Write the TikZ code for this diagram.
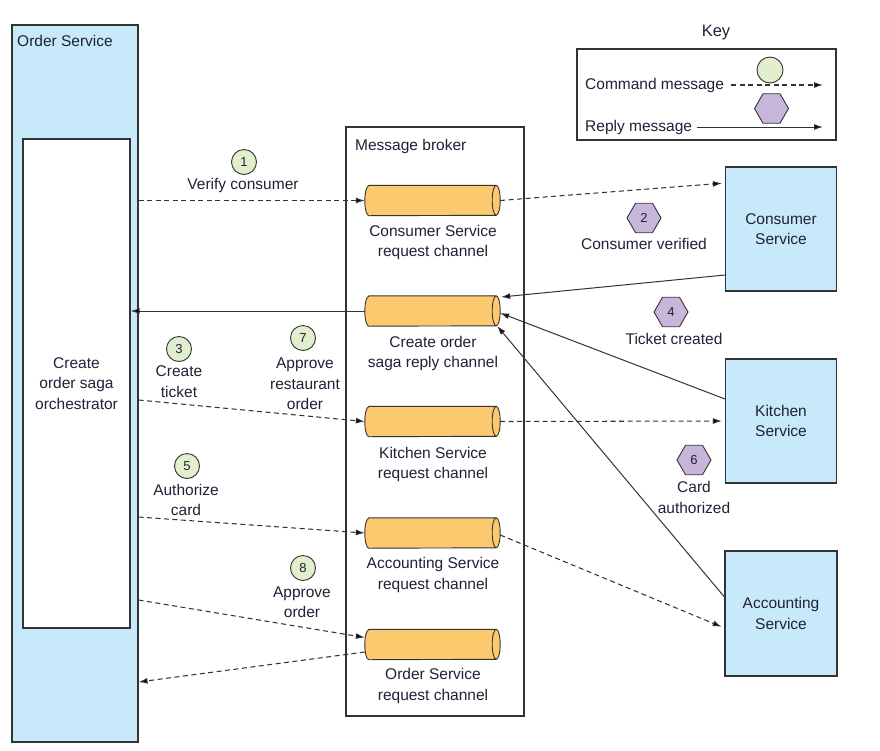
\documentclass[tikz,border=0pt]{standalone}
\usepackage{fontspec}
\setmainfont{Liberation Sans}
\usetikzlibrary{arrows.meta,shapes.geometric}
\definecolor{ink}{HTML}{1E2235}
\definecolor{edge}{HTML}{333333}
\definecolor{svcblue}{HTML}{C8E9FA}
\definecolor{chanorange}{HTML}{FDC96F}
\definecolor{cmdgreen}{HTML}{E1EFCF}
\definecolor{replypurple}{HTML}{C8B6DA}
\tikzset{
  lbl/.style={text=ink, inner sep=0, align=center, font=\fontsize{15.5}{20.5}\selectfont},
  svcbox/.style={draw=edge, line width=1.1pt, fill=svcblue, inner sep=0, text=ink, align=center,
    font=\fontsize{15.5}{20.5}\selectfont},
  plainbox/.style={draw=edge, line width=1.1pt, fill=white, inner sep=0, text=ink, align=center,
    font=\fontsize{15.5}{20.5}\selectfont},
  channel/.style={rectangle, draw=none, minimum width=135, minimum height=30, inner sep=0},
  chanbody/.style={draw=edge, line width=0.9pt, fill=chanorange},
  cmdbadge/.style={circle, draw=edge, line width=0.9pt, fill=cmdgreen, minimum size=25, inner sep=0,
    text=ink, font=\fontsize{13}{13}\selectfont},
  replybadge/.style={regular polygon, regular polygon sides=6, draw=edge, line width=0.9pt,
    fill=replypurple, minimum size=34, inner sep=0, text=ink, font=\fontsize{13}{13}\selectfont},
  cmd/.style={draw=edge, line width=1.05pt, dash pattern=on 5pt off 3.5pt,
    -{Latex[length=9pt,width=6pt,fill=black]}},
  rep/.style={draw=edge, line width=1pt, -{Latex[length=9pt,width=6pt,fill=black]}},
}
% horizontal channel drawn over a named rectangle node: body plus visible end cap
\newcommand\drawchannel[1]{%
  \draw[chanbody] ([xshift=4pt]#1.north west) -- ([xshift=-4pt]#1.north east)
    arc[start angle=90, end angle=-90, x radius=4pt, y radius=15pt]
    -- ([xshift=4pt]#1.south west)
    arc[start angle=270, end angle=90, x radius=4pt, y radius=15pt] -- cycle;
  \draw[draw=edge, line width=0.9pt] ([xshift=-4pt]#1.north east)
    arc[start angle=90, end angle=270, x radius=4pt, y radius=15pt];
}
\begin{document}
\begin{tikzpicture}[x=1pt,y=-1pt]
\useasboundingbox (0,0) rectangle (880,750);

% Order Service and its saga orchestrator
\node[svcbox, minimum width=126, minimum height=717] (orderSvc) at (75,383.5) {};
\node[lbl, anchor=west] (orderLbl) at (17,41) {Order Service};
\node[plainbox, minimum width=107, minimum height=489] (orch) at (76.5,383.5)
  {Create\\order saga\\orchestrator};

% Message broker with its channels
\node[plainbox, minimum width=178, minimum height=589] (broker) at (435,421.5) {};
\node[lbl, anchor=west] (brokerLbl) at (355,146) {Message broker};

\node[channel] (cyl1) at (432.5,200.5) {};
\node[channel] (cyl2) at (432.5,311) {};
\node[channel] (cyl3) at (432.5,421.5) {};
\node[channel] (cyl4) at (432.5,533) {};
\node[channel] (cyl5) at (432.5,644.5) {};
\drawchannel{cyl1}
\drawchannel{cyl2}
\drawchannel{cyl3}
\drawchannel{cyl4}
\drawchannel{cyl5}

\node[lbl] (cyl1Lbl) at (433,242.5) {Consumer Service\\request channel};
\node[lbl] (cyl2Lbl) at (433,353.5) {Create order\\saga reply channel};
\node[lbl] (cyl3Lbl) at (433,464.5) {Kitchen Service\\request channel};
\node[lbl] (cyl4Lbl) at (433,575) {Accounting Service\\request channel};
\node[lbl] (cyl5Lbl) at (433,686) {Order Service\\request channel};

% Participant services
\node[svcbox, minimum width=111, minimum height=124] (consumer) at (781,229) {Consumer\\Service};
\node[svcbox, minimum width=111, minimum height=124] (kitchen) at (781,421) {Kitchen\\Service};
\node[svcbox, minimum width=112, minimum height=125] (acct) at (781,613.5) {Accounting\\Service};

% Key
\node[lbl, font=\fontsize{16.5}{20}\selectfont] (keyTitle) at (716,33) {Key};
\node[plainbox, minimum width=259, minimum height=91] (keyBox) at (706.5,94.5) {};
\node[lbl, anchor=west] (cmdLbl) at (585,85) {Command message};
\node[cmdbadge, minimum size=26] (keyCmd) at (770,70) {};
\node[lbl, anchor=west] (replyLbl) at (585,127) {Reply message};
\node[replybadge] (keyReply) at (771.5,108.5) {};
\coordinate (cmdEnd) at (823,85);
\coordinate (replyEnd) at (823,127);
\draw[cmd] ([xshift=7pt]cmdLbl.east) -- (cmdEnd);
\draw[rep] ([xshift=5pt]replyLbl.east) -- (replyEnd);

% Step badges and their labels
\node[cmdbadge] (b1) at (244,162) {1};
\node[lbl] (b1Lbl) at (243,185) {Verify consumer};
\node[replybadge] (b2) at (644,218) {2};
\node[lbl] (b2Lbl) at (644,244) {Consumer verified};
\node[cmdbadge] (b3) at (179,349) {3};
\node[lbl] (b3Lbl) at (179,381.5) {Create\\ticket};
\node[replybadge] (b4) at (671,312) {4};
\node[lbl] (b4Lbl) at (674,339) {Ticket created};
\node[cmdbadge] (b5) at (187,466) {5};
\node[lbl] (b5Lbl) at (186,500) {Authorize\\card};
\node[replybadge] (b6) at (694,460) {6};
\node[lbl] (b6Lbl) at (694,497.5) {Card\\authorized};
\node[cmdbadge] (b7) at (303,338) {7};
\node[lbl] (b7Lbl) at (305,384) {Approve\\restaurant\\order};
\node[cmdbadge] (b8) at (303,568) {8};
\node[lbl] (b8Lbl) at (302,602) {Approve\\order};

% Commands and replies
\draw[cmd] (orderSvc.east |- cyl1.west) -- (cyl1.west);
\draw[cmd, shorten >=3pt] (cyl1.east) -- ([yshift=46pt]consumer.west);
\draw[rep] ([yshift=-46pt]consumer.west) -- ([xshift=1pt,yshift=14pt]cyl2.east);
\draw[rep] (cyl2.west) -- (orch.east |- cyl2.west);
\draw[rep] ([yshift=22pt]kitchen.west) -- ([yshift=-2pt]cyl2.east);
\draw[rep] ([yshift=16.5pt]acct.west) -- ([xshift=-3pt,yshift=-15pt]cyl2.east);
\draw[cmd] ([yshift=-16.5pt]orderSvc.east) -- (cyl3.west);
\draw[cmd, shorten >=3pt] (cyl3.east) -- (kitchen.west);
\draw[cmd] ([yshift=-133.5pt]orderSvc.east) -- (cyl4.west);
\draw[cmd, shorten >=3pt] ([yshift=-2pt]cyl4.east) -- ([yshift=-14.5pt]acct.west);
\draw[cmd] ([yshift=-216.5pt]orderSvc.east) -- ([yshift=7pt]cyl5.west);
\draw[cmd] ([yshift=-7.5pt]cyl5.west) -- ([yshift=-298.5pt]orderSvc.east);
\end{tikzpicture}
\end{document}
